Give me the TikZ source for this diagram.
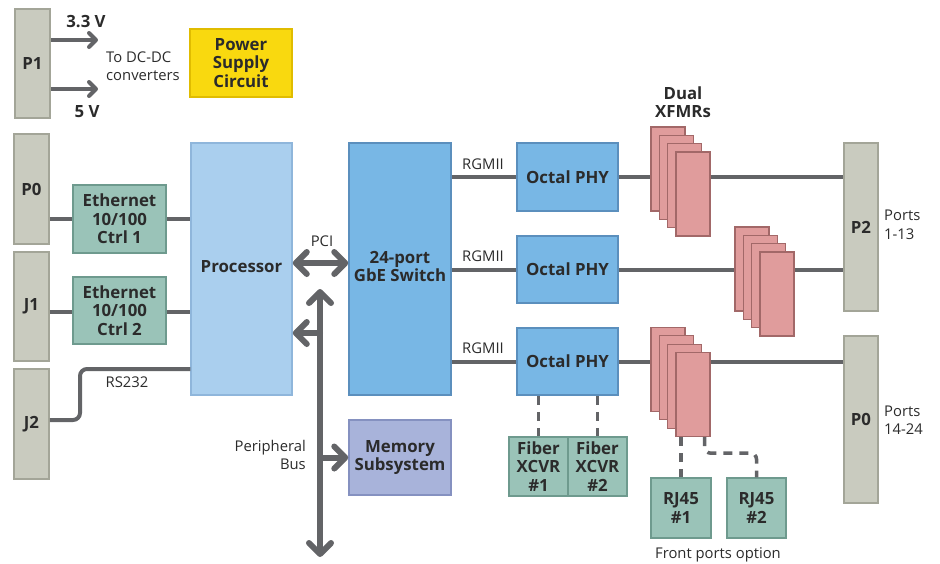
\documentclass[tikz,border=0pt]{standalone}
\usepackage{fontspec}
\setmainfont{Open Sans}
\usetikzlibrary{arrows.meta,calc}
\definecolor{conn}{HTML}{636467}
\definecolor{txt}{HTML}{2B2B2B}
\definecolor{pgray}{HTML}{C9CBBF}
\definecolor{pgrayb}{HTML}{A3A598}
\definecolor{yel}{HTML}{F9D90F}
\definecolor{yelb}{HTML}{E0BC00}
\definecolor{proc}{HTML}{AACFEE}
\definecolor{procb}{HTML}{8FB6DB}
\definecolor{blu}{HTML}{78B7E5}
\definecolor{blub}{HTML}{5B8FBD}
\definecolor{mem}{HTML}{A8B3DA}
\definecolor{memb}{HTML}{8591C0}
\definecolor{grn}{HTML}{9AC3B8}
\definecolor{grnb}{HTML}{6E9A8E}
\definecolor{pnk}{HTML}{E09C9C}
\definecolor{pnkb}{HTML}{A26868}
\begin{document}
\begin{tikzpicture}[x=1pt,y=-1pt,
  box/.style={draw, line width=1.5pt, inner sep=0pt, align=center, text=txt,
    font=\bfseries\fontsize{16.8}{18.4}\selectfont},
  conbox/.style={box, fill=pgray, draw=pgrayb, minimum width=35, minimum height=#1},
  grnbox/.style={box, fill=grn, draw=grnb},
  blubox/.style={box, fill=blu, draw=blub},
  xfmr/.style={draw=pnkb, fill=pnk, line width=1.3pt, minimum width=34, minimum height=84, inner sep=0pt},
  lbl/.style={text=txt, font=\fontsize{14.8}{18.5}\selectfont, inner sep=0pt, align=center},
  blbl/.style={text=txt, font=\bfseries\fontsize{16.8}{18.4}\selectfont, inner sep=0pt, align=center},
  conn/.style={draw=conn, line width=4pt},
  pwr/.style={conn, -{Straight Barb[length=7pt,width=14pt,round]}},
  bus/.style={draw=conn, line width=6pt, line cap=round},
  busbarb/.tip={Straight Barb[length=11pt,width=22pt,round]},
  dsh/.style={draw=conn, line width=3.5pt, dash pattern=on 9pt off 7pt}
]
\useasboundingbox (0,0) rectangle (940,563);

% connectors (left)
\node[conbox=109] (P1) at (32.5,63.5) {P1};
\node[conbox=110] (P0L) at (31.5,189) {P0};
\node[conbox=109] (J1) at (31.5,306.5) {J1};
\node[conbox=110] (J2) at (31.5,424) {J2};

% power
\node[box, fill=yel, draw=yelb, minimum width=102, minimum height=68] (PSC) at (241,63) {Power\\Supply\\Circuit};
\coordinate (a33) at (98,40);
\coordinate (a5) at (98,89);
\draw[pwr] (P1.east |- a33) -- (a33);
\draw[pwr] (P1.east |- a5) -- (a5);
\node[blbl] (t33) at (86,22) {3.3 V};
\node[blbl] (t5) at (87,112) {5 V};
\node[lbl, align=left, anchor=west] (tdc) at (106,66) {To DC-DC\\converters};

% ethernet ctrl
\node[grnbox, minimum width=93, minimum height=68] (E1) at (119.5,219) {Ethernet\\10/100\\Ctrl 1};
\node[grnbox, minimum width=93, minimum height=67] (E2) at (119.5,310.5) {Ethernet\\10/100\\Ctrl 2};

% processor, switch, memory
\node[box, fill=proc, draw=procb, minimum width=101, minimum height=252] (Proc) at (241.5,269) {\raisebox{6pt}{Processor}};
\node[blubox, minimum width=102, minimum height=252] (Sw) at (400,269) {\raisebox{8pt}{\begin{tabular}{@{}c@{}}24-port\\GbE Switch\end{tabular}}};
\node[box, fill=mem, draw=memb, minimum width=102, minimum height=75] (Mem) at (400,457.5) {Memory\\Subsystem};

% PHYs
\node[blubox, minimum width=101, minimum height=68] (PHY1) at (567.5,177) {Octal PHY};
\node[blubox, minimum width=101, minimum height=67] (PHY2) at (567.5,269.5) {Octal PHY};
\node[blubox, minimum width=101, minimum height=67] (PHY3) at (567.5,361.5) {Octal PHY};

% fiber
\node[grnbox, minimum width=59, minimum height=59] (Fib1) at (538.5,466.5) {Fiber\\XCVR\\\#1};
\node[grnbox, minimum width=59, minimum height=59] (Fib2) at (597.5,466.5) {Fiber\\XCVR\\\#2};

% right connectors
\node[conbox=168, minimum width=34] (P2) at (861,227) {P2};
\node[conbox=167, minimum width=34] (P0R) at (861,419.5) {P0};

% RJ45
\node[grnbox, minimum width=60, minimum height=60] (RJ1) at (681,508) {RJ45\\\#1};
\node[grnbox, minimum width=59, minimum height=60] (RJ2) at (756.5,508) {RJ45\\\#2};

% XFMR stacks
\foreach \s/\cx/\cy in {1/668/169, 2/752/269, 3/668/369.5} {
  \node[xfmr] (X\s a) at (\cx,\cy) {};
  \node[xfmr] (X\s b) at (\cx+8.33,\cy+8.33) {};
  \node[xfmr] (X\s c) at (\cx+16.67,\cy+16.67) {};
  \node[xfmr] (X\s d) at (\cx+25,\cy+25) {};
}

% ethernet lines
\draw[conn] (P0L.east |- E1.west) -- (E1.west);
\draw[conn] (E1.east) -- (E1.east -| Proc.west);
\draw[conn] (J1.east |- 0,312) -- (E2.west |- 0,312);
\draw[conn] (E2.east |- 0,312) -- (Proc.west |- 0,312);
\draw[conn, rounded corners=7pt] ($(J2.east)+(0,-4)$) -| (80,369) -- (Proc.west |- 0,369);
\node[lbl] (trs) at (127,382) {RS232};

% RGMII
\draw[conn] (Sw.east |- PHY1.west) -- (PHY1.west);
\draw[conn] (Sw.east |- PHY2.west) -- (PHY2.west);
\draw[conn] (Sw.east |- PHY3.west) -- (PHY3.west);
\node[lbl] (r1) at (483,164) {RGMII};
\node[lbl] (r2) at (483,256) {RGMII};
\node[lbl] (r3) at (483,348) {RGMII};

% PHY to XFMR to connectors
\draw[conn] (PHY1.east) -- (PHY1.east -| X1a.west);
\draw[conn] (X1d.east |- PHY1.east) -- (P2.west |- PHY1.east);
\draw[conn] (PHY2.east) -- (PHY2.east -| X2a.west);
\draw[conn] (X2d.east |- PHY2.east) -- (P2.west |- PHY2.east);
\draw[conn] (PHY3.east) -- (PHY3.east -| X3a.west);
\draw[conn] (X3d.east |- PHY3.east) -- (P0R.west |- PHY3.east);

% dashed options
\draw[dsh] (Fib1.north |- PHY3.south) -- (Fib1.north);
\draw[dsh] (Fib2.north |- PHY3.south) -- (Fib2.north);
\draw[dsh] (RJ1.north |- X3d.south) -- (RJ1.north);
\draw[dsh, rounded corners=6pt] ($(X3d.south east)+(-6,0)$) -- ++(0,16) -| (RJ2.north);

% buses
\coordinate (busTop) at (320,289);
\coordinate (busBot) at (320,557);
\draw[bus, busbarb-busbarb] (busBot) -- (busTop);
\draw[bus, busbarb-busbarb] (Proc.east |- 0,263) -- (Sw.west |- 0,263);
\draw[bus, -busbarb] (busTop |- 0,333) -- (Proc.east |- 0,333);
\draw[bus, -busbarb] (busTop |- Mem.west) -- (Mem.west);
\node[lbl] (tpci) at (322,241) {PCI};
\node[lbl, align=right, anchor=east] (tpb) at (306,455) {Peripheral\\Bus};

% labels right
\node[blbl] (txf) at (683,102) {Dual\\XFMRs};
\node[lbl, align=left, anchor=west] (tp1) at (884,225) {Ports\\1-13};
\node[lbl, align=left, anchor=west] (tp2) at (884,420) {Ports\\14-24};
\node[lbl] (tfp) at (718,555) {Front ports option};
\end{tikzpicture}
\end{document}
